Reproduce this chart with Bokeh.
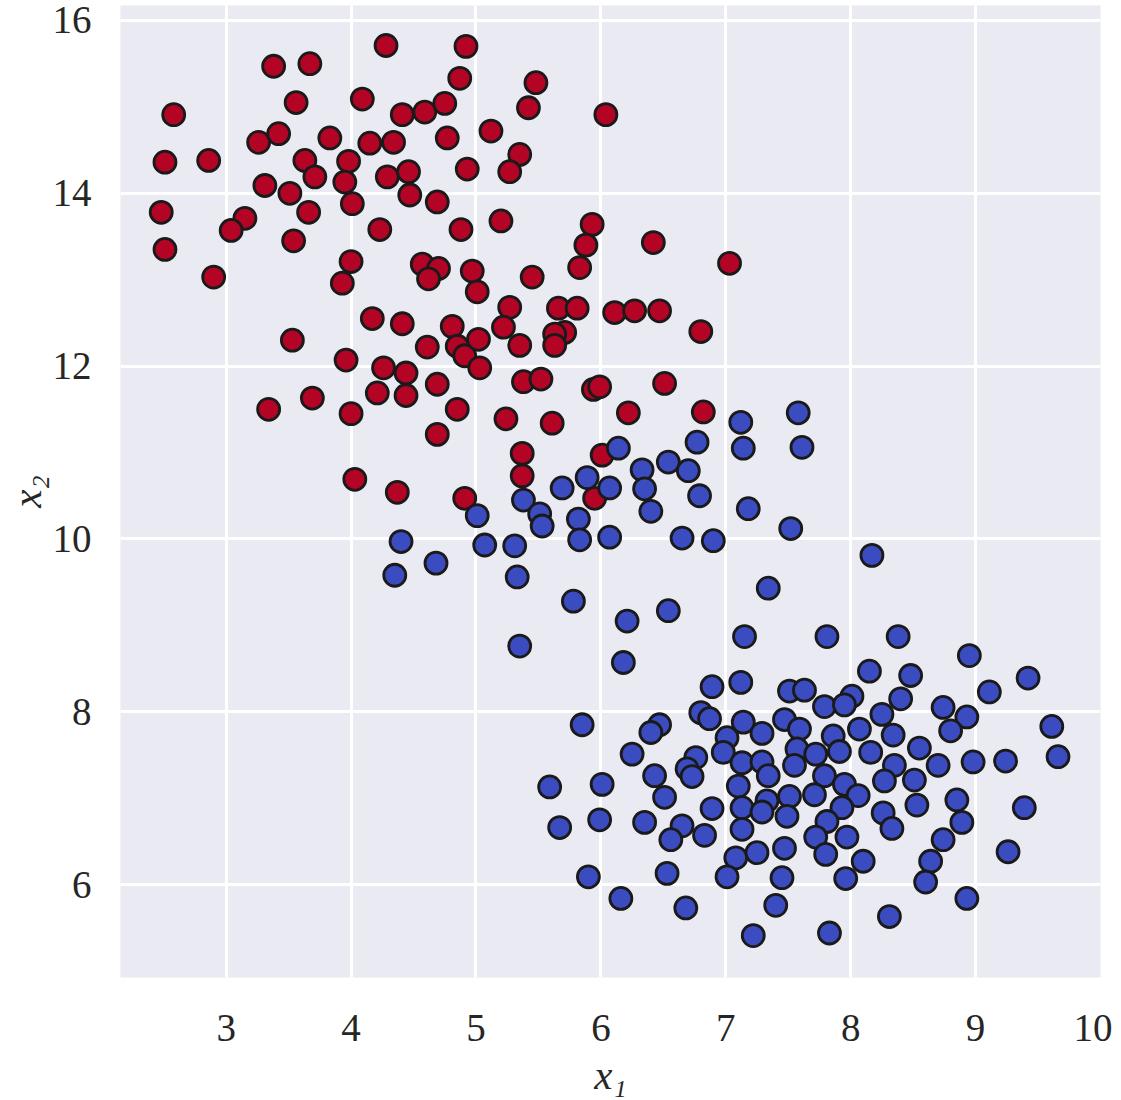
from bokeh.plotting import figure
from bokeh.models import FixedTicker
from bokeh.embed import file_html
from bokeh.resources import INLINE

# class 0 (red)
red_x1 = [4.28, 3.38, 3.67, 3.56, 4.09, 2.58, 3.26, 3.42, 3.83, 4.15, 4.34, 2.51, 2.86, 3.63, 3.98,
          4.29, 3.71, 3.95, 3.31, 3.51, 2.48, 3.15, 3.04, 3.66, 4.01, 3.54, 4.23, 2.51, 4.00, 2.90,
          4.92, 4.87, 5.48, 6.04, 4.41, 4.59, 4.75, 5.12, 4.77, 5.42, 5.35, 5.27, 4.93, 4.46, 4.47,
          4.69, 4.88, 5.20, 5.93, 5.88, 4.57, 4.70, 4.97, 5.45, 5.83, 4.62, 5.01, 4.17, 4.41, 4.61,
          4.81, 4.85, 4.91, 5.02, 5.03, 5.27, 5.22, 5.35, 5.66, 5.81, 5.71, 5.63, 5.63, 6.11, 6.27,
          4.26, 4.44, 4.21, 4.44, 4.69, 4.85, 4.69, 5.38, 5.52, 5.94, 5.99, 5.24, 5.61, 6.22, 5.37,
          5.37, 6.01, 4.37, 4.91, 5.95, 3.93, 3.53, 3.96, 3.69, 3.34, 4.00, 4.03, 6.42, 7.03, 6.47,
          6.80, 6.51, 6.82]
red_x2 = [15.71, 15.47, 15.50, 15.05, 15.09, 14.91, 14.59, 14.69, 14.64, 14.58, 14.59, 14.36, 14.38, 14.38, 14.37,
          14.19, 14.19, 14.13, 14.09, 14.00, 13.78, 13.71, 13.57, 13.78, 13.88, 13.45, 13.58, 13.35, 13.21, 13.03,
          15.70, 15.33, 15.28, 14.91, 14.91, 14.94, 15.04, 14.72, 14.64, 14.99, 14.45, 14.25, 14.28, 14.25, 13.98,
          13.90, 13.58, 13.68, 13.64, 13.40, 13.18, 13.13, 13.10, 13.03, 13.14, 13.01, 12.86, 12.55, 12.49, 12.22,
          12.46, 12.23, 12.12, 12.31, 11.98, 12.68, 12.45, 12.24, 12.67, 12.67, 12.39, 12.37, 12.24, 12.62, 12.64,
          11.98, 11.92, 11.69, 11.66, 11.79, 11.50, 11.21, 11.82, 11.85, 11.73, 11.76, 11.39, 11.34, 11.46, 10.99,
          10.73, 10.97, 10.54, 10.47, 10.47, 12.96, 12.30, 12.07, 11.63, 11.50, 11.45, 10.69, 13.43, 13.19, 12.64,
          12.40, 11.80, 11.47]

# class 1 (blue)
blue_x1 = [6.14, 5.38, 5.69, 5.89, 6.07, 6.33, 6.54, 6.70, 6.77, 7.12, 7.58, 7.14, 7.61, 6.35, 6.79,
           6.40, 7.18, 7.52, 6.65, 6.90, 5.01, 5.51, 5.53, 5.82, 5.83, 6.07, 4.40, 5.07, 5.31, 4.35,
           4.68, 5.33, 5.78, 6.21, 5.35, 6.18, 6.54, 6.89, 5.85, 6.47, 6.40, 6.80, 6.87, 6.25, 7.01,
           6.98, 6.76, 6.69, 6.73, 6.43, 5.59, 6.01, 7.14, 8.17, 7.34, 7.15, 7.81, 8.38, 8.15, 8.48,
           7.12, 7.51, 7.63, 7.79, 8.01, 7.95, 8.40, 8.25, 7.29, 7.47, 7.59, 7.86, 8.07, 8.34, 7.57,
           7.72, 7.91, 8.16, 7.13, 7.29, 7.34, 7.55, 7.79, 8.35, 8.27, 7.10, 7.95, 8.95, 9.11, 9.42,
           8.74, 8.93, 8.80, 9.61, 9.66, 8.55, 8.70, 8.98, 9.24, 8.51, 8.85, 6.51, 6.89, 7.13, 7.13,
           5.67, 5.99, 6.35, 6.65, 6.56, 6.83, 7.08, 5.90, 6.53, 7.01, 6.16, 6.68, 7.33, 7.29, 7.51,
           7.49, 7.71, 8.06, 7.93, 7.81, 7.72, 7.97, 8.26, 8.33, 8.53, 7.25, 7.47, 7.80, 8.10, 7.45,
           7.96, 7.40, 7.22, 7.83, 8.31, 8.89, 8.74, 8.64, 8.60, 8.93, 9.39, 9.26]
blue_x2 = [11.05, 10.45, 10.59, 10.71, 10.59, 10.80, 10.89, 10.79, 11.12, 11.35, 11.46, 11.05, 11.06, 10.58, 10.50,
           10.32, 10.35, 10.12, 10.01, 9.98, 10.27, 10.29, 10.15, 10.23, 9.99, 10.02, 9.97, 9.93, 9.92, 9.58,
           9.72, 9.56, 9.28, 9.05, 8.76, 8.57, 9.17, 8.29, 7.85, 7.85, 7.76, 7.99, 7.92, 7.51, 7.70,
           7.53, 7.47, 7.34, 7.25, 7.26, 7.13, 7.16, 7.88, 9.81, 9.43, 8.87, 8.87, 8.87, 8.47, 8.42,
           8.34, 8.24, 8.25, 8.06, 8.18, 8.08, 8.15, 7.97, 7.75, 7.91, 7.80, 7.72, 7.80, 7.73, 7.57,
           7.51, 7.54, 7.53, 7.41, 7.42, 7.26, 7.38, 7.26, 7.38, 7.20, 7.14, 7.16, 8.65, 8.23, 8.39,
           8.05, 7.94, 7.78, 7.83, 7.48, 7.58, 7.38, 7.42, 7.43, 7.21, 6.98, 7.01, 6.88, 6.89, 6.64,
           6.66, 6.75, 6.72, 6.68, 6.52, 6.57, 6.31, 6.09, 6.13, 6.09, 5.84, 5.73, 6.97, 6.84, 7.02,
           6.79, 7.04, 7.03, 6.89, 6.73, 6.55, 6.55, 6.83, 6.65, 6.92, 6.37, 6.42, 6.35, 6.27, 6.08,
           6.07, 5.76, 5.41, 5.44, 5.63, 6.72, 6.52, 6.27, 6.03, 5.84, 6.89, 6.38]

x_ticks = [3, 4, 5, 6, 7, 8, 9, 10]
y_ticks = [6, 8, 10, 12, 14, 16]

FONT = "Liberation Serif"
TXT = "#262626"

p = figure(width=1112, height=1100, x_range=(2.154, 10.0), y_range=(4.925, 16.173),
           output_backend="svg", toolbar_location=None,
           min_border_left=120, min_border_right=12, min_border_top=5, min_border_bottom=122)

p.background_fill_color = "#eaeaf2"
p.border_fill_color = "white"
p.outline_line_color = None

p.xaxis.ticker = FixedTicker(ticks=x_ticks)
p.yaxis.ticker = FixedTicker(ticks=y_ticks)
p.xgrid.ticker = FixedTicker(ticks=x_ticks)
p.ygrid.ticker = FixedTicker(ticks=y_ticks)
for g in (p.xgrid, p.ygrid):
    g.grid_line_color = "white"
    g.grid_line_width = 3

for ax in (p.xaxis, p.yaxis):
    ax.axis_line_color = None
    ax.major_tick_line_color = None
    ax.minor_tick_line_color = None
    ax.major_tick_out = 0
    ax.major_tick_in = 0
    ax.major_label_text_font = FONT
    ax.major_label_text_font_size = "39px"
    ax.major_label_text_color = TXT
    ax.axis_label_text_font = FONT
    ax.axis_label_text_font_size = "41px"
    ax.axis_label_text_font_style = "italic"
    ax.axis_label_text_color = TXT

p.xaxis.major_label_standoff = 37
p.yaxis.major_label_standoff = 29
p.xaxis.axis_label = "x\u2081"
p.yaxis.axis_label = "x\u2082"
p.xaxis.axis_label_standoff = 8
p.yaxis.axis_label_standoff = 0

p.scatter(red_x1, red_x2, size=22, fill_color="#b40426", line_color="#1a1a1a", line_width=2.8)
p.scatter(blue_x1, blue_x2, size=22, fill_color="#3b4cc0", line_color="#1a1a1a", line_width=2.8)

open("out.html", "w").write(file_html(p, INLINE))
